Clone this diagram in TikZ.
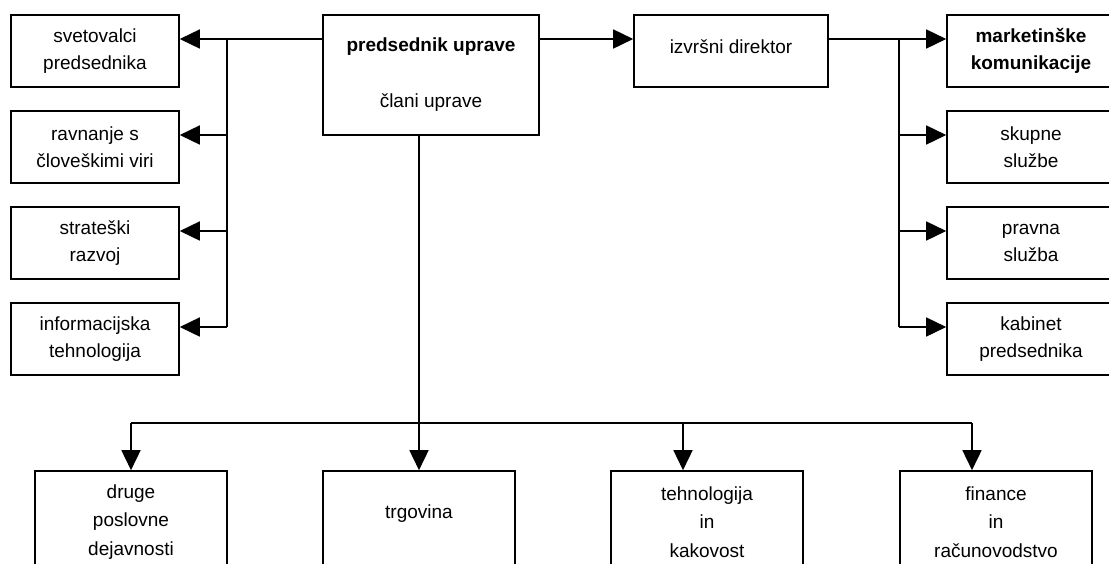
\documentclass[tikz,border=0pt]{standalone}
\usepackage{fontspec}
\setmainfont{Liberation Sans}
\usetikzlibrary{arrows.meta}

\begin{document}
\begin{tikzpicture}[x=1pt, y=-1pt, line width=1.6pt,
	box/.style={draw, inner sep=0pt, align=center, minimum width=168pt, minimum height=72pt, font=\fontsize{19}{27}\selectfont},
	lowbox/.style={box, minimum width=192pt, minimum height=102pt, font=\fontsize{19}{28.5}\selectfont},
	arr/.style={-{Triangle[length=20pt, width=19pt]}}]
	\useasboundingbox (0,0) rectangle (1109,563);
	\node [box, minimum width=216pt, minimum height=120pt] (pu) at (431,75) {\textbf{predsednik uprave}\\[29pt]člani uprave};
	\node [box, minimum width=194pt, text depth=8pt] (id) at (731,51) {izvršni direktor};
	\foreach \t [count=\i] in {{svetovalci\\predsednika}, {ravnanje s\\človeškimi viri}, {strateški\\razvoj}, {informacijska\\tehnologija}}
		\node [box] (l\i) at (95,{51+96*(\i-1)}) {\t};
	\foreach \t [count=\i] in {{\textbf{marketinške}\\\textbf{komunikacije}}, {skupne\\službe}, {pravna\\služba}, {kabinet\\predsednika}}
		\node [box] (r\i) at (1031,{51+96*(\i-1)}) {\t};
	\node [lowbox] (b1) at (131,522) {druge\\poslovne\\dejavnosti};
	\node [lowbox, text depth=21pt] (b2) at (419,522) {trgovina};
	\node [lowbox] (b3) at (707,522) {tehnologija\\in\\kakovost};
	\node [lowbox] (b4) at (996,522) {finance\\in\\računovodstvo};
	\coordinate (lbus) at (227,39);
	\coordinate (rbus) at (899,39);
	\coordinate (bbus) at (419,423);
	\foreach \i in {1,...,4} {
		\coordinate (la\i) at ([yshift=12pt]l\i.east);
		\coordinate (ra\i) at ([yshift=12pt]r\i.west);
		\draw [arr] (lbus |- la\i) -- (la\i);
		\draw [arr] (rbus |- ra\i) -- (ra\i);
	}
	\draw ([yshift=36pt]pu.west) -- (lbus) -- (lbus |- la4);
	\draw [arr] ([yshift=36pt]pu.east) -- ([yshift=12pt]id.west);
	\draw ([yshift=12pt]id.east) -- (rbus) -- (rbus |- ra4);
	\coordinate (ba1) at (b1.north);
	\coordinate (ba2) at (b2.north);
	\coordinate (ba3) at ([xshift=-24pt]b3.north);
	\coordinate (ba4) at ([xshift=-24pt]b4.north);
	\draw ([xshift=-12pt]pu.south) -- (bbus);
	\draw (bbus -| ba1) -- (bbus -| ba4);
	\foreach \i in {1,...,4}
		\draw [arr] (bbus -| ba\i) -- (ba\i);
\end{tikzpicture}
\end{document}
